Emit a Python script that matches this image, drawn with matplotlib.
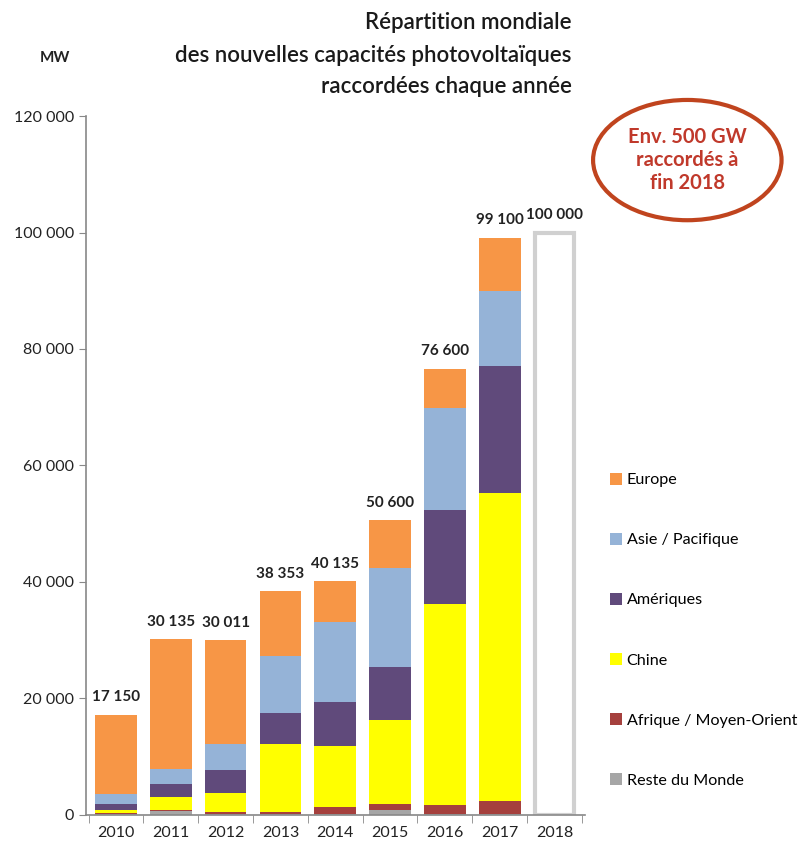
import numpy as np
import matplotlib.pyplot as plt
from matplotlib.patches import Ellipse

plt.rcParams['font.family'] = ['Lato', 'DejaVu Sans']

# Data (MW)
years = ['2010', '2011', '2012', '2013', '2014', '2015', '2016', '2017', '2018']
reste = [200, 700, 200, 100, 100, 850, 100, 100, 0]
afrique = [100, 100, 200, 300, 1200, 950, 1600, 2200, 0]
chine = [500, 2300, 3400, 11700, 10500, 14400, 34500, 52900, 0]
ameriques = [1000, 2200, 3900, 5450, 7600, 9100, 16100, 21800, 0]
asie = [1700, 2500, 4500, 9750, 13700, 17000, 17500, 12900, 0]
europe = [13650, 22335, 17811, 11053, 7035, 8300, 6800, 9200, 0]
totals = [17150, 30135, 30011, 38353, 40135, 50600, 76600, 99100, 100000]

series = [
    ('Reste du Monde', reste, '#A6A6A6'),
    ('Afrique / Moyen-Orient', afrique, '#A5403D'),
    ('Chine', chine, '#FFFF00'),
    ('Amériques', ameriques, '#604A7B'),
    ('Asie / Pacifique', asie, '#95B3D7'),
    ('Europe', europe, '#F79646'),
]

fig = plt.figure(figsize=(8.02, 8.47), dpi=100)
ax = fig.add_axes([0.107, 0.038, 0.622, 0.825])

x = np.arange(len(years))
w = 0.76
bottom = np.zeros(len(years))
handles = []
for name, vals, col in series:
    h = ax.bar(x, vals, w, bottom=bottom, color=col, label=name, linewidth=0)
    handles.append(h)
    bottom += np.array(vals)

# 2018 forecast: empty outlined bar
ax.bar(x[-1], totals[-1], w - 0.06, color='white', edgecolor='#D0D0D0', linewidth=3)

for i, t in enumerate(totals):
    ax.text(x[i], t + 1800, f'{t:,}'.replace(',', ' '), ha='center', va='bottom',
            fontsize=11, fontweight='bold', color='#222222')

ax.set_ylim(0, 120000)
ax.set_xlim(-0.55, 8.55)
ax.set_yticks(np.arange(0, 120001, 20000))
ax.set_yticklabels([f'{v:,}'.replace(',', ' ') for v in range(0, 120001, 20000)])
ax.set_xticks(x)
ax.set_xticklabels(years)
ax.set_xticks(np.arange(-0.5, 9, 1), minor=True)
ax.tick_params(axis='x', which='major', length=0, labelsize=11.5, pad=8, colors='#222222')
ax.tick_params(axis='x', which='minor', length=6, color='#888888', direction='out')
ax.tick_params(axis='y', length=5, color='#888888', labelsize=11.5, colors='#222222')
for s in ['top', 'right']:
    ax.spines[s].set_visible(False)
for s in ['left', 'bottom']:
    ax.spines[s].set_color('#888888')
    ax.spines[s].set_linewidth(1.2)

# Title and unit
title_kw = dict(ha='right', va='center', fontsize=16, fontweight='semibold', color='#1a1a1a')
fig.text(0.713, 0.974, 'Répartition mondiale', **title_kw)
fig.text(0.713, 0.935, 'des nouvelles capacités photovoltaïques', **title_kw)
fig.text(0.713, 0.898, 'raccordées chaque année', **title_kw)
fig.text(0.068, 0.931, 'MW', ha='center', va='center', fontsize=11, fontweight='bold', color='#222222')

# Callout ellipse
ell = Ellipse((0.857, 0.811), 0.235, 0.142, transform=fig.transFigure,
              facecolor='white', edgecolor='#C0441E', linewidth=3)
fig.add_artist(ell)
fig.text(0.857, 0.811, 'Env. 500 GW\nraccordés à\nfin 2018', ha='center', va='center',
         fontsize=14.5, fontweight='bold', color='#C0392B', linespacing=1.2)

# Legend (Europe on top)
leg = fig.legend(handles[::-1], [s[0] for s in series][::-1], loc='upper left',
                 bbox_to_anchor=(0.742, 0.459), frameon=False, fontsize=11.6,
                 handlelength=0.75, handleheight=0.75, handletextpad=0.3,
                 labelspacing=2.83)

fig.savefig('out.png', dpi=100)
